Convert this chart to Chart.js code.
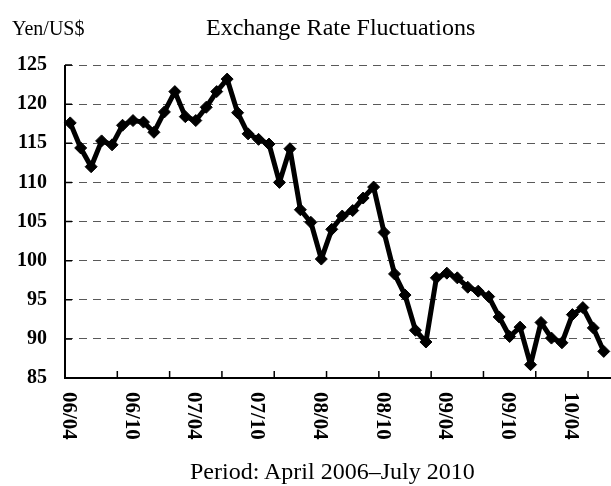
<!DOCTYPE html>
<html>
  <head>
    <meta charset="UTF-8" />
    <title>Exchange Rate Fluctuations</title>
    <style>
      * {
        margin: 0;
        padding: 0;
        box-sizing: border-box;
      }

      body {
        position: relative;
        width: 611px;
        height: 486px;
        overflow: hidden;
        background-color: #fff;
        font-family: "Liberation Serif", "Times New Roman", serif;
        color: #000;
      }

      #chart-box {
        position: absolute;
        left: 0;
        top: 0;
        width: 616px;
        height: 486px;
      }

      .caption {
        position: absolute;
        white-space: nowrap;
        line-height: 1;
      }

      #unit {
        left: 12px;
        top: 18px;
        font-size: 20px;
      }

      #title {
        left: 206px;
        top: 15px;
        font-size: 24px;
      }

      #period {
        left: 190px;
        top: 459px;
        font-size: 24px;
      }
    </style>
  </head>
  <body>
    <div id="chart-box">
      <canvas id="rateChart" width="616" height="486"></canvas>
    </div>
    <div class="caption" id="unit">Yen/US$</div>
    <div class="caption" id="title">Exchange Rate Fluctuations</div>
    <div class="caption" id="period">Period: April 2006–July 2010</div>

    <script src="https://cdn.jsdelivr.net/npm/chart.js"></script>
    <script>
      // monthly data, April 2006 - July 2010
      const months = [
        "06/04", "06/05", "06/06", "06/07", "06/08", "06/09", "06/10", "06/11", "06/12",
        "07/01", "07/02", "07/03", "07/04", "07/05", "07/06", "07/07", "07/08", "07/09",
        "07/10", "07/11", "07/12",
        "08/01", "08/02", "08/03", "08/04", "08/05", "08/06", "08/07", "08/08", "08/09",
        "08/10", "08/11", "08/12",
        "09/01", "09/02", "09/03", "09/04", "09/05", "09/06", "09/07", "09/08", "09/09",
        "09/10", "09/11", "09/12",
        "10/01", "10/02", "10/03", "10/04", "10/05", "10/06", "10/07",
      ];

      const rates = [
        117.6, 114.4, 112.0, 115.3, 114.8, 117.3, 117.9, 117.7, 116.4,
        119.0, 121.6, 118.4, 117.9, 119.6, 121.6, 123.2, 118.9, 116.2,
        115.5, 114.9, 110.0,
        114.3, 106.5, 104.9, 100.2, 104.0, 105.7, 106.4, 108.0, 109.4,
        103.6, 98.3, 95.6,
        91.1, 89.6, 97.8, 98.4, 97.8, 96.6, 96.1, 95.4, 92.8,
        90.3, 91.5, 86.7,
        92.1, 90.1, 89.5, 93.1, 94.0, 91.4, 88.4,
      ];

      const xTickLabels = ["06/04", "06/10", "07/04", "07/10", "08/04", "08/10", "09/04", "09/10", "10/04"];
      const yTicks = [85, 90, 95, 100, 105, 110, 115, 120, 125];
      const tickMarkEvery = 5;

      // axis lines, inside tick marks and top-to-bottom month labels
      const axesPlugin = {
        id: "axes",
        beforeDatasetsDraw(chart) {
          const { ctx, chartArea: a, scales } = chart;
          const x = scales.x;
          const y = scales.y;
          ctx.save();
          ctx.strokeStyle = "#000";
          ctx.lineWidth = 2;
          ctx.beginPath();
          ctx.moveTo(a.left, y.getPixelForValue(yTicks[yTicks.length - 1]));
          ctx.lineTo(a.left, a.bottom);
          ctx.lineTo(a.right + 5, a.bottom);
          ctx.stroke();

          ctx.lineWidth = 1.5;
          ctx.beginPath();
          yTicks.forEach((v) => {
            const py = y.getPixelForValue(v);
            ctx.moveTo(a.left, py);
            ctx.lineTo(a.left + 7, py);
          });
          for (let k = 1; k * tickMarkEvery <= months.length; k++) {
            const px = x.getPixelForValue(k * tickMarkEvery - 0.5);
            ctx.moveTo(px, a.bottom);
            ctx.lineTo(px, a.bottom - 7);
          }
          ctx.stroke();

          ctx.font = "bold 21px 'Liberation Serif'";
          ctx.fillStyle = "#000";
          ctx.textAlign = "left";
          ctx.textBaseline = "middle";
          xTickLabels.forEach((lab) => {
            const px = x.getPixelForValue(months.indexOf(lab));
            ctx.save();
            ctx.translate(px - 2, a.bottom + 14);
            ctx.rotate(Math.PI / 2);
            ctx.fillText(lab, 0, 0);
            ctx.restore();
          });
          ctx.restore();
        },
      };

      const ctx = document.getElementById("rateChart").getContext("2d");
      const chart = new Chart(ctx, {
        type: "line",
        data: {
          labels: months,
          datasets: [
            {
              label: "Yen/US$",
              data: rates,
              borderColor: "#000",
              backgroundColor: "#000",
              borderWidth: 5,
              borderJoinStyle: "round",
              tension: 0,
              pointStyle: "rectRot",
              pointRadius: 6,
              pointBackgroundColor: "#000",
              pointBorderColor: "#000",
              pointBorderWidth: 1,
              clip: false,
            },
          ],
        },
        options: {
          responsive: false,
          animation: false,
          devicePixelRatio: 1,
          layout: {
            padding: { top: 65, right: 3, bottom: 0, left: 0 },
          },
          plugins: {
            legend: { display: false },
            tooltip: { enabled: false },
          },
          scales: {
            x: {
              offset: true,
              ticks: { display: false },
              grid: { display: false },
              border: { display: false },
              afterFit: (s) => {
                s.height = 108;
              },
            },
            y: {
              min: 85,
              max: 125,
              afterBuildTicks: (s) => {
                s.ticks = yTicks.map((v) => ({ value: v }));
              },
              ticks: {
                color: "#000",
                padding: 18,
                font: { family: "Liberation Serif", size: 20, weight: "bold" },
              },
              grid: { color: "#595959", lineWidth: 1, drawTicks: false },
              border: { display: false, dash: [8, 6] },
              afterFit: (s) => {
                s.width = 65;
              },
            },
          },
        },
        plugins: [axesPlugin],
      });
    </script>
  </body>
</html>
